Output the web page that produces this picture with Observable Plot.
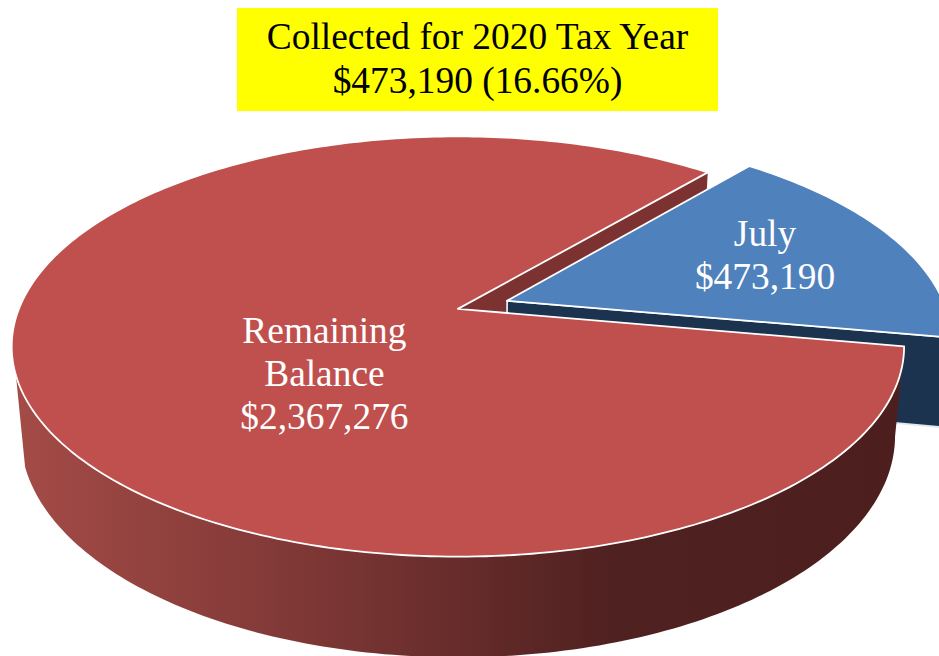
<!DOCTYPE html>
<html>
<head>
<meta charset="utf-8">
<script src="https://cdn.jsdelivr.net/npm/d3@7"></script>
<script src="https://cdn.jsdelivr.net/npm/@observablehq/plot@0.6"></script>
<style>
html,body{margin:0;padding:0;background:#fff;overflow:hidden}
#wrap{position:relative;width:939px;height:656px}
#title{position:absolute;left:237px;top:8px;width:481px;height:103px;background:#ffff00;color:#000;
font-family:"Liberation Serif",serif;font-size:37.4px;line-height:44px;text-align:center;padding-top:7px;box-sizing:border-box;white-space:nowrap}
</style>
</head>
<body>
<div id="wrap">
<div id="title">Collected for 2020 Tax Year<br>$473,190 (16.66%)</div>
<div id="chart"></div>
</div>
<script>
const categories = ["July", "Remaining\nBalance"];
const values = [473190, 2367276];
const colors = ["#4F81BD", "#C0504D"];

const total = d3.sum(values);
const firstAngle = 40.3;
const sweep = values.map(v => v / total * 360);
const blueFrom = firstAngle, blueTo = firstAngle + sweep[0];
const redFrom = blueTo, redTo = redFrom + sweep[1];
const blueMid = (blueFrom + blueTo) / 2;
const rad = d => d * Math.PI / 180;

// perspective view of the pie: disc plane (X,Y), depth Z
const cam = {cx: 457.4, cy: 308.4, b: 439, a: 203.4, c: 89.6, k: 0.179, m: 0.02};
const explode = 0.12;
function project(X, Y, Z = 0) {
  const w = 1 - cam.k * Y + cam.m * Z;
  return {x: cam.cx + cam.b * X / w, y: cam.cy + (cam.a * Y + cam.c * Z) / w};
}
const blueOff = [explode * Math.sin(rad(blueMid)), -explode * Math.cos(rad(blueMid))];
const rimPt = (deg, Z = 0, off = [0, 0]) =>
  project(Math.sin(rad(deg)) + off[0], -Math.cos(rad(deg)) + off[1], Z);
const arc = (a0, a1, Z = 0, off = [0, 0]) => {
  const n = Math.ceil(Math.abs(a1 - a0));
  return d3.range(n + 1).map(i => rimPt(a0 + (a1 - a0) * i / n, Z, off));
};
const apex = (Z = 0, off = [0, 0]) => project(off[0], off[1], Z);

const redTop = [apex(), ...arc(redFrom, redTo), apex()];
const blueTop = [apex(0, blueOff), ...arc(blueFrom, blueTo, 0, blueOff), apex(0, blueOff)];
const redCut = [apex(), rimPt(redTo), rimPt(redTo, 1), apex(1), apex()];
const blueCut = [apex(0, blueOff), rimPt(blueTo, 0, blueOff), rimPt(blueTo, 1, blueOff), apex(1, blueOff), apex(0, blueOff)];
const wallEnd = 252;
const redWall = [...arc(redFrom, wallEnd), ...arc(wallEnd, redFrom, 1)];

const labels = [
  {...project(0.735, -0.283), text: `${categories[0]}\n${d3.format("$,")(values[0])}`},
  {...project(-0.288, 0.296), text: `${categories[1]}\n${d3.format("$,")(values[1])}`}
];

const gradient = () => {
  const defs = d3.create("svg:defs");
  const g = defs.append("linearGradient").attr("id", "wallShade");
  [["0%", "#A44B47"], ["32%", "#7F3836"], ["67%", "#4F2120"], ["100%", "#4C1F1E"]]
    .forEach(([o, c]) => g.append("stop").attr("offset", o).attr("stop-color", c));
  return defs.node();
};
const poly = (pts, fill, stroke = "none") =>
  Plot.line(pts, {x: "x", y: "y", fill, stroke, strokeWidth: 1.8, strokeLinejoin: "round", clip: "frame"});

const chart = Plot.plot({
  width: 939,
  height: 656,
  margin: 0,
  x: {domain: [0, 939], range: [0, 939], axis: null},
  y: {domain: [0, 656], range: [0, 656], axis: null},
  marks: [
    gradient,
    poly(redCut, "#7B3230"),
    poly(blueCut, "#1C334F", "#dfe6ee"),
    poly(blueTop, colors[0], "#ffffff"),
    poly(redWall, "url(#wallShade)"),
    poly(redTop, colors[1], "#ffffff"),
    Plot.text(labels, {x: "x", y: "y", text: "text", fill: "#ffffff", fontSize: 37.4, lineHeight: 1.15,
      fontFamily: "Liberation Serif, serif", textAnchor: "middle", frameAnchor: "middle"})
  ]
});
document.getElementById("chart").appendChild(chart);
</script>
</body>
</html>
